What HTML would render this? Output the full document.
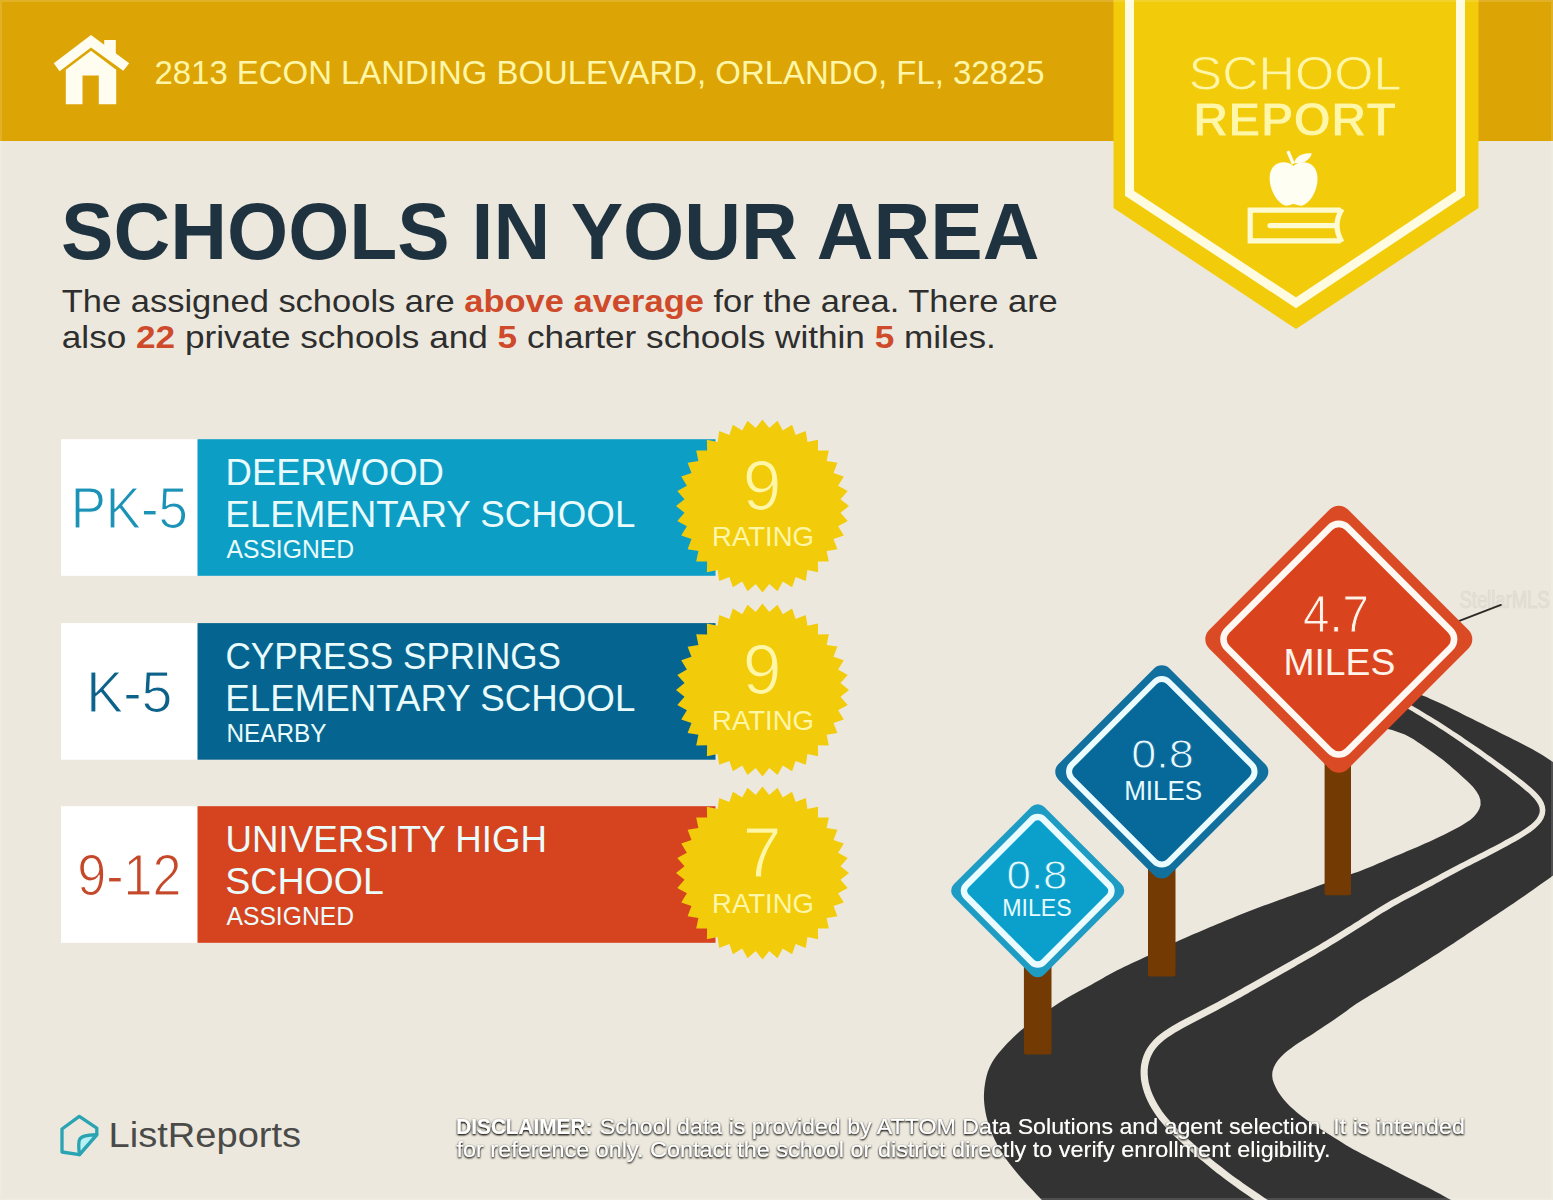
<!DOCTYPE html>
<html lang="en"><head><meta charset="utf-8"><title>School Report</title>
<style>
html,body{margin:0;padding:0;background:#ece8dd;}
body{width:1553px;height:1200px;overflow:hidden;font-family:"Liberation Sans", sans-serif;}
svg{display:block;font-family:"Liberation Sans", sans-serif;}
</style></head><body>
<svg width="1553" height="1200" viewBox="0 0 1553 1200">
<defs>
<filter id="glow" x="-2%" y="-20%" width="104%" height="140%"><feGaussianBlur in="SourceAlpha" stdDeviation="1.25" result="b"/><feOffset in="b" dx="0.4" dy="0.5" result="ob"/><feComponentTransfer in="ob" result="sb"><feFuncA type="linear" slope="1.7"/></feComponentTransfer><feFlood flood-color="#3a3832" result="c"/><feComposite in="c" in2="sb" operator="in" result="sh"/><feMerge><feMergeNode in="sh"/><feMergeNode in="SourceGraphic"/></feMerge></filter>
</defs>
<rect width="1553" height="1200" fill="#ece8dd"/>

<rect x="0" y="0" width="1553" height="141" fill="#dca505"/>
<g fill="#fffdf0"><polygon points="91,35 129.2,63.3 123.3,70.8 91,47.5 59.6,71.2 53.8,63.3"/><rect x="104.2" y="40" width="11.6" height="16"/><polygon points="91,50.8 116.2,69.8 116.2,104.2 98.8,104.2 98.8,75.4 82.5,75.4 82.5,104.2 65.8,104.2 65.8,69.8"/></g>
<text x="154.5" y="83.8" font-size="33.6" fill="#fff6a8" text-anchor="start" font-weight="normal" textLength="890" lengthAdjust="spacingAndGlyphs" >2813 ECON LANDING BOULEVARD, ORLANDO, FL, 32825</text>
<polygon points="1113.5,0 1478.5,0 1478.5,208 1296,329 1113.5,208" fill="#f2cb0a"/>
<polyline points="1129.5,-5 1129.5,193.3 1296,302.8 1460.5,193.3 1460.5,-5" fill="none" stroke="#fffbe0" stroke-width="9" stroke-linejoin="miter"/>
<text x="1295" y="90.4" font-size="49" fill="#fff6a8" text-anchor="middle" font-weight="normal" textLength="213" lengthAdjust="spacingAndGlyphs" stroke="#f2cb0a" stroke-width="0.9" stroke-linejoin="round">SCHOOL</text>
<text x="1294.5" y="136.4" font-size="48.6" fill="#fff6a8" text-anchor="middle" font-weight="bold" textLength="203" lengthAdjust="spacingAndGlyphs" stroke="#f2cb0a" stroke-width="1.0" stroke-linejoin="round">REPORT</text>
<g fill="#fffef2"><path d="M1293.5,166 C1289,161.5 1279,160.5 1273.5,166.5 C1267.5,173 1269,186 1274.5,195.5 C1278,201.5 1283,206.5 1288,205.5 C1291,205 1292,204 1293.5,204 C1295,204 1296.5,205 1299.5,205.5 C1304.5,206.5 1309.5,201.5 1313,195.5 C1318.5,186 1319.5,173 1313.5,166.5 C1308,160.5 1298,161.5 1293.5,166 Z"/><path d="M1291.8,164.5 L1286.4,151.8 L1289.4,150.5 L1294.8,163.2 Z"/><path d="M1294,163 C1296,156 1303,152.5 1311.8,153.5 C1310,160 1303,164.5 1294,163 Z"/></g>
<g fill="none" stroke="#fffbd0" stroke-width="5.2" stroke-linejoin="miter"><path d="M1340.5,210.2 L1250.2,210.2 L1250.2,240.8 L1340.5,240.8"/><path d="M1342,209 Q1332,225.5 1342,242" stroke-linecap="butt"/><path d="M1270,225.6 L1335,225.6" stroke-linecap="round"/></g>
<text x="61" y="258.8" font-size="80" fill="#1f3240" text-anchor="start" font-weight="bold" textLength="978.5" lengthAdjust="spacingAndGlyphs" >SCHOOLS IN YOUR AREA</text>
<text x="61.8" y="312.4" font-size="32" fill="#2e2e2e" textLength="996" lengthAdjust="spacingAndGlyphs">The assigned schools are <tspan fill="#cf4a2a" font-weight="bold">above average</tspan> for the area. There are</text>
<text x="61.8" y="347.6" font-size="32" fill="#2e2e2e" textLength="934" lengthAdjust="spacingAndGlyphs">also <tspan fill="#cf4a2a" font-weight="bold">22</tspan> private schools and <tspan fill="#cf4a2a" font-weight="bold">5</tspan> charter schools within <tspan fill="#cf4a2a" font-weight="bold">5</tspan> miles.</text>
<rect x="61" y="439.2" width="137" height="136.6" fill="#ffffff"/>
<rect x="197.5" y="439.2" width="518" height="136.6" fill="#0d9ec6"/>
<text x="129.3" y="528.4" font-size="57.2" fill="#1b93b6" text-anchor="middle" font-weight="normal" textLength="117.2" lengthAdjust="spacingAndGlyphs" stroke="#ffffff" stroke-width="1.2" stroke-linejoin="round">PK-5</text>
<text x="225.5" y="484.59999999999997" font-size="37.5" fill="#e9fbfb" text-anchor="start" font-weight="normal" textLength="218.5" lengthAdjust="spacingAndGlyphs" >DEERWOOD</text>
<text x="225.3" y="527.4" font-size="37.5" fill="#e9fbfb" text-anchor="start" font-weight="normal" textLength="410.0" lengthAdjust="spacingAndGlyphs" >ELEMENTARY SCHOOL</text>
<text x="226.5" y="558.0" font-size="25" fill="#e9fbfb" text-anchor="start" font-weight="normal" textLength="127.5" lengthAdjust="spacingAndGlyphs" >ASSIGNED</text>
<polygon points="762.5,419.5 769.3,428.0 777.5,420.8 782.8,430.4 792.1,424.7 795.6,435.0 805.8,431.1 807.4,441.9 818.1,439.7 817.9,450.6 828.8,450.4 826.6,461.1 837.4,462.8 833.5,472.9 843.8,476.4 838.1,485.7 847.7,491.0 840.5,499.2 849.0,506.0 840.5,512.8 847.7,521.0 838.1,526.3 843.8,535.6 833.5,539.1 837.4,549.2 826.6,550.9 828.8,561.6 817.9,561.4 818.1,572.3 807.4,570.1 805.8,580.9 795.6,577.0 792.1,587.3 782.8,581.6 777.5,591.2 769.3,584.0 762.5,592.5 755.7,584.0 747.5,591.2 742.2,581.6 732.9,587.3 729.4,577.0 719.2,580.9 717.6,570.1 706.9,572.3 707.1,561.4 696.2,561.6 698.4,550.9 687.6,549.2 691.5,539.1 681.2,535.6 686.9,526.3 677.3,521.0 684.5,512.8 676.0,506.0 684.5,499.2 677.3,491.0 686.9,485.7 681.2,476.4 691.5,472.9 687.6,462.8 698.4,461.1 696.2,450.4 707.1,450.6 706.9,439.7 717.6,441.9 719.2,431.1 729.4,435.0 732.9,424.7 742.2,430.4 747.5,420.8 755.7,428.0" fill="#f2cb0a"/>
<text x="762" y="509.9" font-size="69.6" fill="#fff6a8" text-anchor="middle" font-weight="normal" stroke="#f2cb0a" stroke-width="1.2" stroke-linejoin="round">9</text>
<text x="763" y="546.2" font-size="27.6" fill="#fff6a8" text-anchor="middle" font-weight="normal" textLength="102" lengthAdjust="spacingAndGlyphs" >RATING</text>
<rect x="61" y="623.1" width="137" height="136.6" fill="#ffffff"/>
<rect x="197.5" y="623.1" width="518" height="136.6" fill="#066590"/>
<text x="129.3" y="712.3000000000001" font-size="57.2" fill="#0d6289" text-anchor="middle" font-weight="normal" textLength="86.2" lengthAdjust="spacingAndGlyphs" stroke="#ffffff" stroke-width="1.2" stroke-linejoin="round">K-5</text>
<text x="225.5" y="668.5" font-size="37.5" fill="#e9fbfb" text-anchor="start" font-weight="normal" textLength="335.5" lengthAdjust="spacingAndGlyphs" >CYPRESS SPRINGS</text>
<text x="225.3" y="711.3000000000001" font-size="37.5" fill="#e9fbfb" text-anchor="start" font-weight="normal" textLength="410.0" lengthAdjust="spacingAndGlyphs" >ELEMENTARY SCHOOL</text>
<text x="226.5" y="741.9" font-size="25" fill="#e9fbfb" text-anchor="start" font-weight="normal" textLength="100" lengthAdjust="spacingAndGlyphs" >NEARBY</text>
<polygon points="762.5,603.4 769.3,611.9 777.5,604.7 782.8,614.3 792.1,608.6 795.6,618.9 805.8,615.0 807.4,625.8 818.1,623.6 817.9,634.5 828.8,634.3 826.6,645.0 837.4,646.6 833.5,656.8 843.8,660.3 838.1,669.6 847.7,674.9 840.5,683.1 849.0,689.9 840.5,696.7 847.7,704.9 838.1,710.2 843.8,719.5 833.5,723.0 837.4,733.1 826.6,734.8 828.8,745.5 817.9,745.3 818.1,756.2 807.4,754.0 805.8,764.8 795.6,760.9 792.1,771.2 782.8,765.5 777.5,775.1 769.3,767.9 762.5,776.4 755.7,767.9 747.5,775.1 742.2,765.5 732.9,771.2 729.4,760.9 719.2,764.8 717.6,754.0 706.9,756.2 707.1,745.3 696.2,745.5 698.4,734.8 687.6,733.1 691.5,723.0 681.2,719.5 686.9,710.2 677.3,704.9 684.5,696.7 676.0,689.9 684.5,683.1 677.3,674.9 686.9,669.6 681.2,660.3 691.5,656.8 687.6,646.7 698.4,645.0 696.2,634.3 707.1,634.5 706.9,623.6 717.6,625.8 719.2,615.0 729.4,618.9 732.9,608.6 742.2,614.3 747.5,604.7 755.7,611.9" fill="#f2cb0a"/>
<text x="762" y="693.8" font-size="69.6" fill="#fff6a8" text-anchor="middle" font-weight="normal" stroke="#f2cb0a" stroke-width="1.2" stroke-linejoin="round">9</text>
<text x="763" y="730.1" font-size="27.6" fill="#fff6a8" text-anchor="middle" font-weight="normal" textLength="102" lengthAdjust="spacingAndGlyphs" >RATING</text>
<rect x="61" y="806.2" width="137" height="136.6" fill="#ffffff"/>
<rect x="197.5" y="806.2" width="518" height="136.6" fill="#d6431f"/>
<text x="129.3" y="895.4000000000001" font-size="57.2" fill="#c4492a" text-anchor="middle" font-weight="normal" textLength="104.2" lengthAdjust="spacingAndGlyphs" stroke="#ffffff" stroke-width="1.2" stroke-linejoin="round">9-12</text>
<text x="225.5" y="851.6" font-size="37.5" fill="#e9fbfb" text-anchor="start" font-weight="normal" textLength="321.5" lengthAdjust="spacingAndGlyphs" >UNIVERSITY HIGH</text>
<text x="225.3" y="894.4000000000001" font-size="37.5" fill="#e9fbfb" text-anchor="start" font-weight="normal" textLength="158.5" lengthAdjust="spacingAndGlyphs" >SCHOOL</text>
<text x="226.5" y="925.0" font-size="25" fill="#e9fbfb" text-anchor="start" font-weight="normal" textLength="127.5" lengthAdjust="spacingAndGlyphs" >ASSIGNED</text>
<polygon points="762.5,786.5 769.3,795.0 777.5,787.8 782.8,797.4 792.1,791.7 795.6,802.0 805.8,798.1 807.4,808.9 818.1,806.7 817.9,817.6 828.8,817.4 826.6,828.1 837.4,829.8 833.5,839.9 843.8,843.4 838.1,852.7 847.7,858.0 840.5,866.2 849.0,873.0 840.5,879.8 847.7,888.0 838.1,893.3 843.8,902.6 833.5,906.1 837.4,916.2 826.6,917.9 828.8,928.6 817.9,928.4 818.1,939.3 807.4,937.1 805.8,947.9 795.6,944.0 792.1,954.3 782.8,948.6 777.5,958.2 769.3,951.0 762.5,959.5 755.7,951.0 747.5,958.2 742.2,948.6 732.9,954.3 729.4,944.0 719.2,947.9 717.6,937.1 706.9,939.3 707.1,928.4 696.2,928.6 698.4,917.9 687.6,916.2 691.5,906.1 681.2,902.6 686.9,893.3 677.3,888.0 684.5,879.8 676.0,873.0 684.5,866.2 677.3,858.0 686.9,852.7 681.2,843.4 691.5,839.9 687.6,829.8 698.4,828.1 696.2,817.4 707.1,817.6 706.9,806.7 717.6,808.9 719.2,798.1 729.4,802.0 732.9,791.7 742.2,797.4 747.5,787.8 755.7,795.0" fill="#f2cb0a"/>
<text x="762" y="876.9" font-size="69.6" fill="#fff6a8" text-anchor="middle" font-weight="normal" stroke="#f2cb0a" stroke-width="1.2" stroke-linejoin="round">7</text>
<text x="763" y="913.2" font-size="27.6" fill="#fff6a8" text-anchor="middle" font-weight="normal" textLength="102" lengthAdjust="spacingAndGlyphs" >RATING</text>
<polygon fill="#333333" points="1400.0,685.5 1402.8,686.7 1406.5,688.4 1410.2,690.0 1414.3,691.8 1418.4,693.6 1422.5,695.4 1426.6,697.1 1430.6,698.9 1434.7,700.7 1438.7,702.4 1442.6,704.2 1446.4,706.1 1450.2,707.9 1453.9,709.7 1457.6,711.6 1461.4,713.5 1465.1,715.4 1468.9,717.3 1472.6,719.1 1476.3,721.0 1480.0,722.8 1483.6,724.6 1487.3,726.4 1491.0,728.3 1494.7,730.1 1498.5,732.0 1502.3,733.9 1506.0,735.7 1509.7,737.6 1513.4,739.4 1517.1,741.3 1520.9,743.3 1524.8,745.3 1528.6,747.3 1532.5,749.3 1536.2,751.4 1539.8,753.5 1543.1,755.6 1546.5,757.8 1549.9,760.0 1553.4,762.3 1557.0,764.8 1560.7,767.6 1564.0,770.6 1566.9,773.8 1569.2,777.3 1571.0,781.1 1572.2,785.1 1573.3,789.7 1574.1,794.2 1574.7,798.8 1575.2,803.3 1575.5,807.7 1575.7,811.9 1575.8,816.3 1575.9,820.9 1575.9,825.6 1575.9,830.2 1575.9,834.7 1575.7,839.0 1575.5,842.9 1575.0,847.2 1574.1,851.5 1572.8,855.5 1570.9,859.3 1568.6,863.0 1566.1,865.7 1563.4,868.1 1560.2,870.5 1557.1,872.8 1553.8,875.0 1550.4,877.4 1546.9,879.9 1543.6,882.3 1540.0,884.8 1536.2,887.5 1532.4,890.2 1528.4,893.0 1524.6,895.7 1520.8,898.3 1517.2,900.8 1513.7,903.2 1510.2,905.5 1506.8,907.8 1503.2,910.2 1499.7,912.5 1496.1,914.9 1492.5,917.3 1488.9,919.7 1485.4,922.0 1481.8,924.4 1478.3,926.7 1474.8,929.1 1471.2,931.4 1467.7,933.8 1464.2,936.2 1460.7,938.5 1457.2,940.8 1453.7,943.2 1450.1,945.5 1446.6,947.8 1443.1,950.1 1439.5,952.4 1435.9,954.8 1432.2,957.1 1428.5,959.5 1424.9,961.8 1421.2,964.1 1417.7,966.3 1414.2,968.5 1410.9,970.6 1407.4,972.8 1403.8,975.0 1400.2,977.2 1396.5,979.4 1392.8,981.7 1389.2,983.8 1385.7,985.9 1382.2,988.0 1378.6,990.2 1374.8,992.4 1370.9,994.8 1367.0,997.2 1363.2,999.6 1359.6,1001.8 1356.0,1004.1 1352.8,1006.3 1349.6,1008.6 1346.5,1010.9 1343.3,1013.2 1340.1,1015.5 1336.5,1018.0 1333.0,1020.4 1329.2,1023.0 1325.3,1025.6 1321.3,1028.3 1317.4,1030.8 1313.5,1033.4 1309.6,1035.9 1305.8,1038.3 1302.0,1040.8 1298.4,1043.1 1294.7,1045.6 1291.1,1048.2 1287.6,1050.8 1284.4,1053.5 1281.1,1056.7 1278.1,1060.0 1275.6,1063.7 1273.7,1067.6 1272.4,1071.7 1272.2,1075.8 1272.7,1079.8 1274.0,1083.6 1275.8,1087.5 1277.9,1091.4 1280.5,1095.3 1283.3,1099.0 1286.4,1102.5 1289.7,1105.9 1293.1,1109.1 1296.7,1112.2 1300.4,1115.2 1304.1,1118.0 1307.8,1120.7 1311.6,1123.3 1315.2,1125.7 1319.0,1128.1 1322.8,1130.5 1326.6,1132.9 1330.5,1135.3 1334.3,1137.7 1338.1,1140.1 1342.0,1142.6 1345.8,1144.9 1349.7,1147.2 1353.6,1149.4 1357.6,1151.6 1361.6,1153.7 1365.7,1155.8 1369.8,1157.9 1373.8,1159.9 1377.7,1161.9 1381.4,1163.8 1385.1,1165.7 1388.7,1167.6 1392.3,1169.4 1395.8,1171.3 1399.5,1173.2 1403.4,1175.2 1407.3,1177.2 1411.4,1179.2 1415.6,1181.3 1419.8,1183.4 1423.9,1185.4 1428.0,1187.6 1432.2,1189.7 1436.2,1191.9 1440.2,1194.1 1444.0,1196.2 1448.2,1198.5 1452.3,1200.7 1456.5,1203.0 1461.0,1205.5 1047.0,1205.5 1042.8,1201.0 1039.7,1197.7 1036.3,1194.2 1033.4,1191.1 1030.3,1187.8 1027.2,1184.5 1024.0,1181.0 1020.9,1177.5 1017.9,1174.1 1015.0,1170.6 1012.2,1167.1 1009.6,1163.7 1007.0,1160.2 1004.5,1156.6 1002.1,1152.9 999.8,1149.2 997.6,1145.3 995.6,1141.5 993.7,1137.6 992.0,1133.5 990.4,1129.4 988.9,1125.2 987.6,1121.0 986.4,1116.6 985.5,1112.3 984.8,1108.1 984.3,1104.0 984.0,1099.9 983.9,1095.9 984.1,1091.9 984.4,1087.9 985.0,1083.8 985.7,1079.7 986.7,1075.6 987.9,1071.6 989.4,1067.8 991.2,1064.1 993.2,1060.5 995.6,1057.0 998.3,1053.5 1001.3,1050.0 1004.4,1046.5 1007.6,1043.1 1010.7,1039.9 1013.7,1036.9 1016.9,1033.9 1020.1,1031.1 1023.3,1028.5 1026.7,1025.8 1030.2,1023.1 1033.7,1020.5 1037.4,1017.9 1041.1,1015.2 1044.7,1012.7 1048.3,1010.1 1051.8,1007.7 1055.2,1005.5 1058.5,1003.3 1062.0,1001.1 1065.3,999.1 1068.7,997.1 1072.2,995.1 1075.9,993.1 1079.5,991.1 1083.3,989.0 1087.1,987.0 1090.9,984.9 1094.6,982.8 1098.3,980.8 1102.0,978.7 1105.6,976.6 1109.3,974.6 1113.0,972.6 1116.7,970.6 1120.5,968.7 1124.3,966.8 1128.2,964.9 1132.2,963.1 1136.2,961.3 1140.1,959.5 1144.1,957.6 1148.0,955.8 1151.8,953.9 1155.5,952.1 1159.2,950.2 1163.0,948.3 1167.0,946.3 1170.9,944.3 1174.8,942.5 1178.7,940.7 1182.5,939.0 1186.1,937.4 1189.9,935.7 1193.8,934.1 1197.8,932.4 1201.8,930.7 1205.8,929.0 1209.7,927.3 1213.6,925.7 1217.5,924.1 1221.4,922.4 1225.3,920.8 1229.2,919.2 1233.0,917.7 1236.9,916.1 1240.7,914.6 1244.5,913.1 1248.3,911.6 1252.2,910.1 1256.1,908.6 1260.0,907.1 1263.9,905.6 1267.9,904.2 1272.0,902.7 1275.9,901.3 1279.9,899.8 1283.7,898.4 1287.5,897.1 1291.3,895.7 1295.3,894.3 1299.2,892.8 1303.2,891.4 1307.3,889.9 1311.3,888.5 1315.2,887.0 1319.1,885.6 1323.3,884.1 1327.6,882.6 1332.0,881.0 1336.6,879.4 1341.0,877.8 1345.2,876.3 1349.5,874.8 1353.5,873.3 1357.6,871.9 1361.5,870.4 1365.6,868.8 1369.6,867.2 1373.9,865.4 1378.1,863.6 1382.6,861.7 1386.9,859.8 1391.1,858.0 1395.1,856.3 1399.0,854.7 1402.7,853.2 1406.3,851.6 1410.0,850.0 1413.7,848.5 1417.4,846.9 1421.2,845.2 1424.9,843.6 1428.7,841.9 1432.4,840.2 1436.0,838.6 1439.7,836.8 1443.5,835.0 1447.4,833.1 1451.2,831.1 1455.1,829.1 1459.0,826.9 1462.8,824.7 1466.6,822.3 1470.2,819.9 1473.8,816.7 1476.9,813.1 1479.2,809.2 1480.6,805.0 1480.4,800.1 1478.9,795.5 1476.3,791.2 1473.1,787.1 1469.4,783.2 1466.0,780.0 1462.6,776.9 1459.4,774.0 1456.1,771.1 1452.8,768.2 1449.5,765.3 1446.1,762.5 1442.5,759.6 1438.6,756.7 1434.6,753.7 1430.3,750.7 1426.0,747.7 1421.7,744.8 1417.5,741.9 1413.2,739.1 1409.0,736.7 1404.8,734.6 1400.6,732.9 1396.4,731.4 1392.2,730.1 1387.9,728.9 1383.5,727.6 1379.2,726.3 1375.3,725.2 1371.1,723.9 1368.0,723.0"/>
<text x="1459.5" y="607.8" font-size="23" fill="#e6e3db" text-anchor="start" font-weight="normal" textLength="90" lengthAdjust="spacingAndGlyphs" stroke="#d9d6cd" stroke-width="0.6">StellarMLS</text>
<line x1="1449" y1="624.9" x2="1500.9" y2="604.9" stroke="#2c2a25" stroke-width="1.9" stroke-linecap="round"/>
<polygon fill="#ece8dd" points="1393.9,700.4 1397.1,702.3 1400.8,704.5 1404.6,706.7 1408.4,709.0 1412.4,711.3 1416.3,713.7 1420.3,716.1 1424.3,718.5 1428.2,720.9 1432.1,723.3 1435.9,725.7 1439.6,728.2 1443.4,730.6 1447.1,733.1 1450.8,735.6 1454.5,738.1 1458.2,740.6 1461.9,743.1 1465.6,745.7 1469.3,748.2 1473.0,750.8 1476.7,753.4 1480.4,756.1 1484.1,758.7 1487.8,761.4 1491.4,764.0 1495.1,766.7 1498.7,769.4 1502.3,772.0 1505.8,774.6 1509.2,777.3 1512.6,779.9 1515.9,782.5 1519.2,785.1 1522.4,787.7 1525.6,790.4 1528.8,793.1 1531.7,795.9 1534.4,798.8 1536.6,801.7 1538.3,804.6 1539.4,807.5 1539.8,810.3 1539.5,813.1 1538.3,816.0 1536.5,818.9 1534.0,821.7 1531.0,824.5 1527.5,827.1 1523.9,829.6 1520.1,832.0 1516.2,834.2 1512.4,836.4 1508.6,838.5 1504.8,840.6 1501.1,842.7 1497.3,844.7 1493.5,846.7 1489.8,848.6 1486.1,850.6 1482.3,852.5 1478.6,854.3 1474.9,856.2 1471.2,858.1 1467.5,860.0 1463.7,861.9 1460.0,863.8 1456.3,865.7 1452.5,867.7 1448.7,869.7 1444.9,871.7 1441.1,873.8 1437.3,875.9 1433.4,878.0 1429.6,880.0 1425.7,882.1 1421.8,884.2 1418.0,886.2 1414.1,888.2 1410.3,890.2 1406.4,892.2 1402.5,894.3 1398.6,896.4 1394.8,898.5 1390.9,900.6 1387.2,902.8 1383.4,905.0 1379.7,907.2 1376.1,909.5 1372.5,911.8 1368.9,914.0 1365.3,916.3 1361.7,918.6 1358.1,920.9 1354.6,923.1 1351.0,925.4 1347.4,927.6 1343.9,929.8 1340.3,932.0 1336.8,934.2 1333.2,936.4 1329.7,938.6 1326.1,940.7 1322.6,942.8 1319.1,944.9 1315.6,946.9 1312.1,949.0 1308.5,951.0 1305.0,953.0 1301.5,955.0 1298.0,957.0 1294.4,959.0 1290.9,961.0 1287.3,963.0 1283.7,965.0 1280.2,967.0 1276.6,969.1 1273.1,971.1 1269.6,973.1 1266.0,975.1 1262.5,977.1 1259.0,979.1 1255.4,981.1 1251.9,983.1 1248.3,985.1 1244.6,987.1 1240.9,989.2 1237.1,991.3 1233.2,993.4 1229.4,995.5 1225.5,997.7 1221.6,999.8 1217.7,1001.9 1213.8,1004.0 1209.9,1006.1 1206.1,1008.1 1202.2,1010.1 1198.4,1012.1 1194.6,1014.0 1190.8,1016.0 1186.9,1018.0 1183.1,1020.0 1179.2,1022.1 1175.4,1024.3 1171.5,1026.5 1167.6,1029.0 1163.8,1031.5 1160.1,1034.3 1156.5,1037.2 1153.2,1040.5 1150.2,1044.0 1147.5,1047.7 1145.2,1051.8 1143.4,1056.1 1142.0,1060.6 1141.0,1065.2 1140.6,1069.9 1140.6,1074.6 1140.9,1079.2 1141.7,1083.8 1142.8,1088.2 1144.1,1092.6 1145.7,1096.8 1147.6,1100.9 1149.6,1104.9 1151.8,1108.8 1154.2,1112.6 1156.7,1116.2 1159.3,1119.7 1162.1,1123.1 1165.0,1126.5 1168.0,1129.7 1171.1,1132.9 1174.2,1136.0 1177.5,1139.1 1180.7,1142.1 1184.0,1145.1 1187.3,1148.0 1190.6,1150.9 1193.8,1153.8 1197.1,1156.6 1200.4,1159.4 1203.6,1162.1 1206.9,1164.8 1210.2,1167.5 1213.5,1170.2 1216.9,1172.9 1220.4,1175.6 1223.9,1178.3 1227.6,1181.1 1231.4,1183.8 1235.2,1186.6 1239.2,1189.4 1243.2,1192.2 1247.3,1195.1 1251.5,1197.9 1255.6,1200.7 1259.8,1203.5 1263.9,1206.3 1267.9,1209.1 1272.1,1202.9 1268.1,1200.2 1263.9,1197.4 1259.7,1194.6 1255.6,1191.8 1251.5,1189.0 1247.4,1186.2 1243.4,1183.4 1239.5,1180.6 1235.7,1177.9 1231.9,1175.2 1228.3,1172.5 1224.8,1169.8 1221.4,1167.1 1218.1,1164.5 1214.8,1161.9 1211.5,1159.2 1208.3,1156.5 1205.1,1153.8 1201.8,1151.0 1198.6,1148.3 1195.4,1145.4 1192.1,1142.6 1188.9,1139.7 1185.6,1136.8 1182.5,1133.8 1179.3,1130.8 1176.2,1127.8 1173.3,1124.7 1170.4,1121.6 1167.7,1118.5 1165.0,1115.2 1162.5,1111.9 1160.2,1108.6 1158.0,1105.1 1156.0,1101.5 1154.1,1097.8 1152.4,1094.1 1150.9,1090.2 1149.7,1086.3 1148.7,1082.4 1148.1,1078.3 1147.7,1074.3 1147.7,1070.3 1148.1,1066.3 1148.9,1062.4 1150.1,1058.6 1151.6,1054.9 1153.5,1051.5 1155.8,1048.3 1158.4,1045.3 1161.3,1042.5 1164.5,1039.8 1167.9,1037.3 1171.5,1034.9 1175.2,1032.6 1178.9,1030.4 1182.7,1028.3 1186.4,1026.3 1190.2,1024.3 1194.0,1022.3 1197.8,1020.3 1201.7,1018.3 1205.5,1016.3 1209.4,1014.3 1213.2,1012.3 1217.1,1010.2 1221.0,1008.1 1224.9,1006.0 1228.8,1003.8 1232.7,1001.7 1236.6,999.5 1240.5,997.4 1244.3,995.3 1248.0,993.2 1251.6,991.1 1255.3,989.1 1258.8,987.1 1262.4,985.0 1265.9,983.0 1269.4,981.0 1272.9,979.0 1276.5,977.0 1280.0,975.0 1283.5,972.9 1287.1,970.9 1290.6,968.9 1294.2,966.9 1297.7,964.8 1301.3,962.8 1304.8,960.8 1308.3,958.8 1311.9,956.7 1315.4,954.7 1318.9,952.6 1322.4,950.5 1326.0,948.4 1329.5,946.3 1333.1,944.1 1336.6,942.0 1340.2,939.8 1343.7,937.6 1347.3,935.3 1350.9,933.1 1354.4,930.8 1358.0,928.6 1361.6,926.3 1365.2,924.0 1368.7,921.7 1372.3,919.4 1375.9,917.1 1379.4,914.8 1383.0,912.6 1386.7,910.4 1390.3,908.2 1394.0,906.0 1397.8,903.9 1401.6,901.8 1405.4,899.7 1409.3,897.7 1413.1,895.7 1417.0,893.7 1420.8,891.6 1424.7,889.6 1428.6,887.5 1432.5,885.4 1436.3,883.3 1440.2,881.2 1444.0,879.1 1447.8,877.0 1451.5,875.0 1455.3,873.0 1459.0,871.0 1462.7,869.1 1466.4,867.1 1470.2,865.2 1473.9,863.3 1477.6,861.4 1481.3,859.6 1485.0,857.7 1488.7,855.7 1492.5,853.8 1496.3,851.8 1500.0,849.8 1503.8,847.8 1507.6,845.7 1511.4,843.6 1515.3,841.4 1519.2,839.2 1523.1,836.8 1527.0,834.3 1530.9,831.7 1534.7,828.8 1538.1,825.6 1541.1,822.2 1543.4,818.5 1544.9,814.5 1545.4,810.3 1544.9,806.2 1543.5,802.3 1541.3,798.6 1538.7,795.2 1535.7,792.0 1532.5,789.0 1529.3,786.2 1526.0,783.5 1522.7,780.8 1519.3,778.2 1515.9,775.5 1512.5,772.9 1509.0,770.3 1505.5,767.7 1501.9,765.0 1498.3,762.4 1494.6,759.7 1490.9,757.1 1487.1,754.4 1483.4,751.8 1479.7,749.1 1476.0,746.5 1472.2,744.0 1468.5,741.4 1464.8,738.9 1461.1,736.3 1457.3,733.8 1453.6,731.4 1449.9,728.9 1446.1,726.5 1442.3,724.0 1438.5,721.6 1434.6,719.2 1430.7,716.8 1426.7,714.4 1422.7,712.0 1418.7,709.6 1414.7,707.3 1410.8,705.0 1406.9,702.8 1403.1,700.5 1399.3,698.4 1396.1,696.6"/>
<rect x="1324.6" y="740" width="26.4" height="155.2" rx="2" fill="#733a03"/>
<rect x="1148" y="850" width="27.5" height="126.5" rx="2" fill="#733a03"/>
<rect x="1023.9" y="950" width="27.6" height="104.4" rx="2" fill="#733a03"/>
<rect x="1240.6" y="541.0" width="196.4" height="196.4" rx="13" ry="13" fill="#da4a24" transform="rotate(45 1338.8 639.2)" />
<rect x="1253.6" y="554.0" width="170.4" height="170.4" rx="12.5" ry="12.5" fill="#d9441e" transform="rotate(45 1338.8 639.2)" stroke="#fff8f2" stroke-width="6.6"/>
<rect x="1083.3" y="693.3" width="157.1" height="157.1" rx="11" ry="11" fill="#12709e" transform="rotate(45 1161.8 771.8)" />
<rect x="1093.3" y="703.3" width="137.0" height="137.0" rx="10" ry="10" fill="#07689a" transform="rotate(45 1161.8 771.8)" stroke="#eafcff" stroke-width="6.0"/>
<rect x="973.8" y="826.9" width="127.7" height="127.7" rx="9" ry="9" fill="#1e9cc4" transform="rotate(45 1037.7 890.8)" />
<rect x="983.2" y="836.3" width="109.0" height="109.0" rx="8" ry="8" fill="#0ba0cb" transform="rotate(45 1037.7 890.8)" stroke="#eafcff" stroke-width="6.4"/>
<text x="1336" y="631.8" font-size="52.1" fill="#fff3ea" text-anchor="middle" font-weight="normal" textLength="66" lengthAdjust="spacingAndGlyphs" stroke="#d9441e" stroke-width="1.0" stroke-linejoin="round">4.7</text>
<text x="1339.4" y="675" font-size="36" fill="#fff3ea" text-anchor="middle" font-weight="normal" textLength="112" lengthAdjust="spacingAndGlyphs" >MILES</text>
<text x="1162.5" y="768.2" font-size="39.8" fill="#e6fbff" text-anchor="middle" font-weight="normal" textLength="62.5" lengthAdjust="spacingAndGlyphs" stroke="#07689a" stroke-width="0.9" stroke-linejoin="round">0.8</text>
<text x="1163.2" y="800.2" font-size="28" fill="#e6fbff" text-anchor="middle" font-weight="normal" textLength="78" lengthAdjust="spacingAndGlyphs" >MILES</text>
<text x="1037" y="888.6" font-size="39.8" fill="#e6fbff" text-anchor="middle" font-weight="normal" textLength="61" lengthAdjust="spacingAndGlyphs" stroke="#0ba0cb" stroke-width="0.9" stroke-linejoin="round">0.8</text>
<text x="1037" y="916.4" font-size="24.7" fill="#e6fbff" text-anchor="middle" font-weight="normal" textLength="69.5" lengthAdjust="spacingAndGlyphs" >MILES</text>
<g fill="none" stroke="#2aa4b3" stroke-width="3.3" stroke-linejoin="round"><path d="M79.3,1116.4 L62,1129 L62,1152 L79.4,1154.6 L96.8,1134.6 L96.8,1128.2 Z" /><path d="M79.4,1154.6 C78.6,1148 78,1143 79.5,1139.6 C81,1136.2 85,1135 96.8,1134.6 Z" fill="#b7f1f4"/></g>
<text x="108.6" y="1147" font-size="35.4" fill="#4a4a48" text-anchor="start" font-weight="normal" textLength="192.5" lengthAdjust="spacingAndGlyphs" >ListReports</text>
<g filter="url(#glow)" fill="#ffffff" font-size="22.6">
<text x="456.3" y="1134.2" font-weight="bold" textLength="136" lengthAdjust="spacingAndGlyphs">DISCLAIMER:</text>
<text x="599.8" y="1134.2" textLength="865" lengthAdjust="spacingAndGlyphs">School data is provided by ATTOM Data Solutions and agent selection. It is intended</text>
<text x="456.5" y="1157.4" textLength="874" lengthAdjust="spacingAndGlyphs">for reference only. Contact the school or district directly to verify enrollment eligibility.</text>
</g>
<rect x="1" y="1" width="1551" height="1198" fill="none" stroke="#ffffff" stroke-opacity="0.14" stroke-width="2"/>
</svg></body></html>
